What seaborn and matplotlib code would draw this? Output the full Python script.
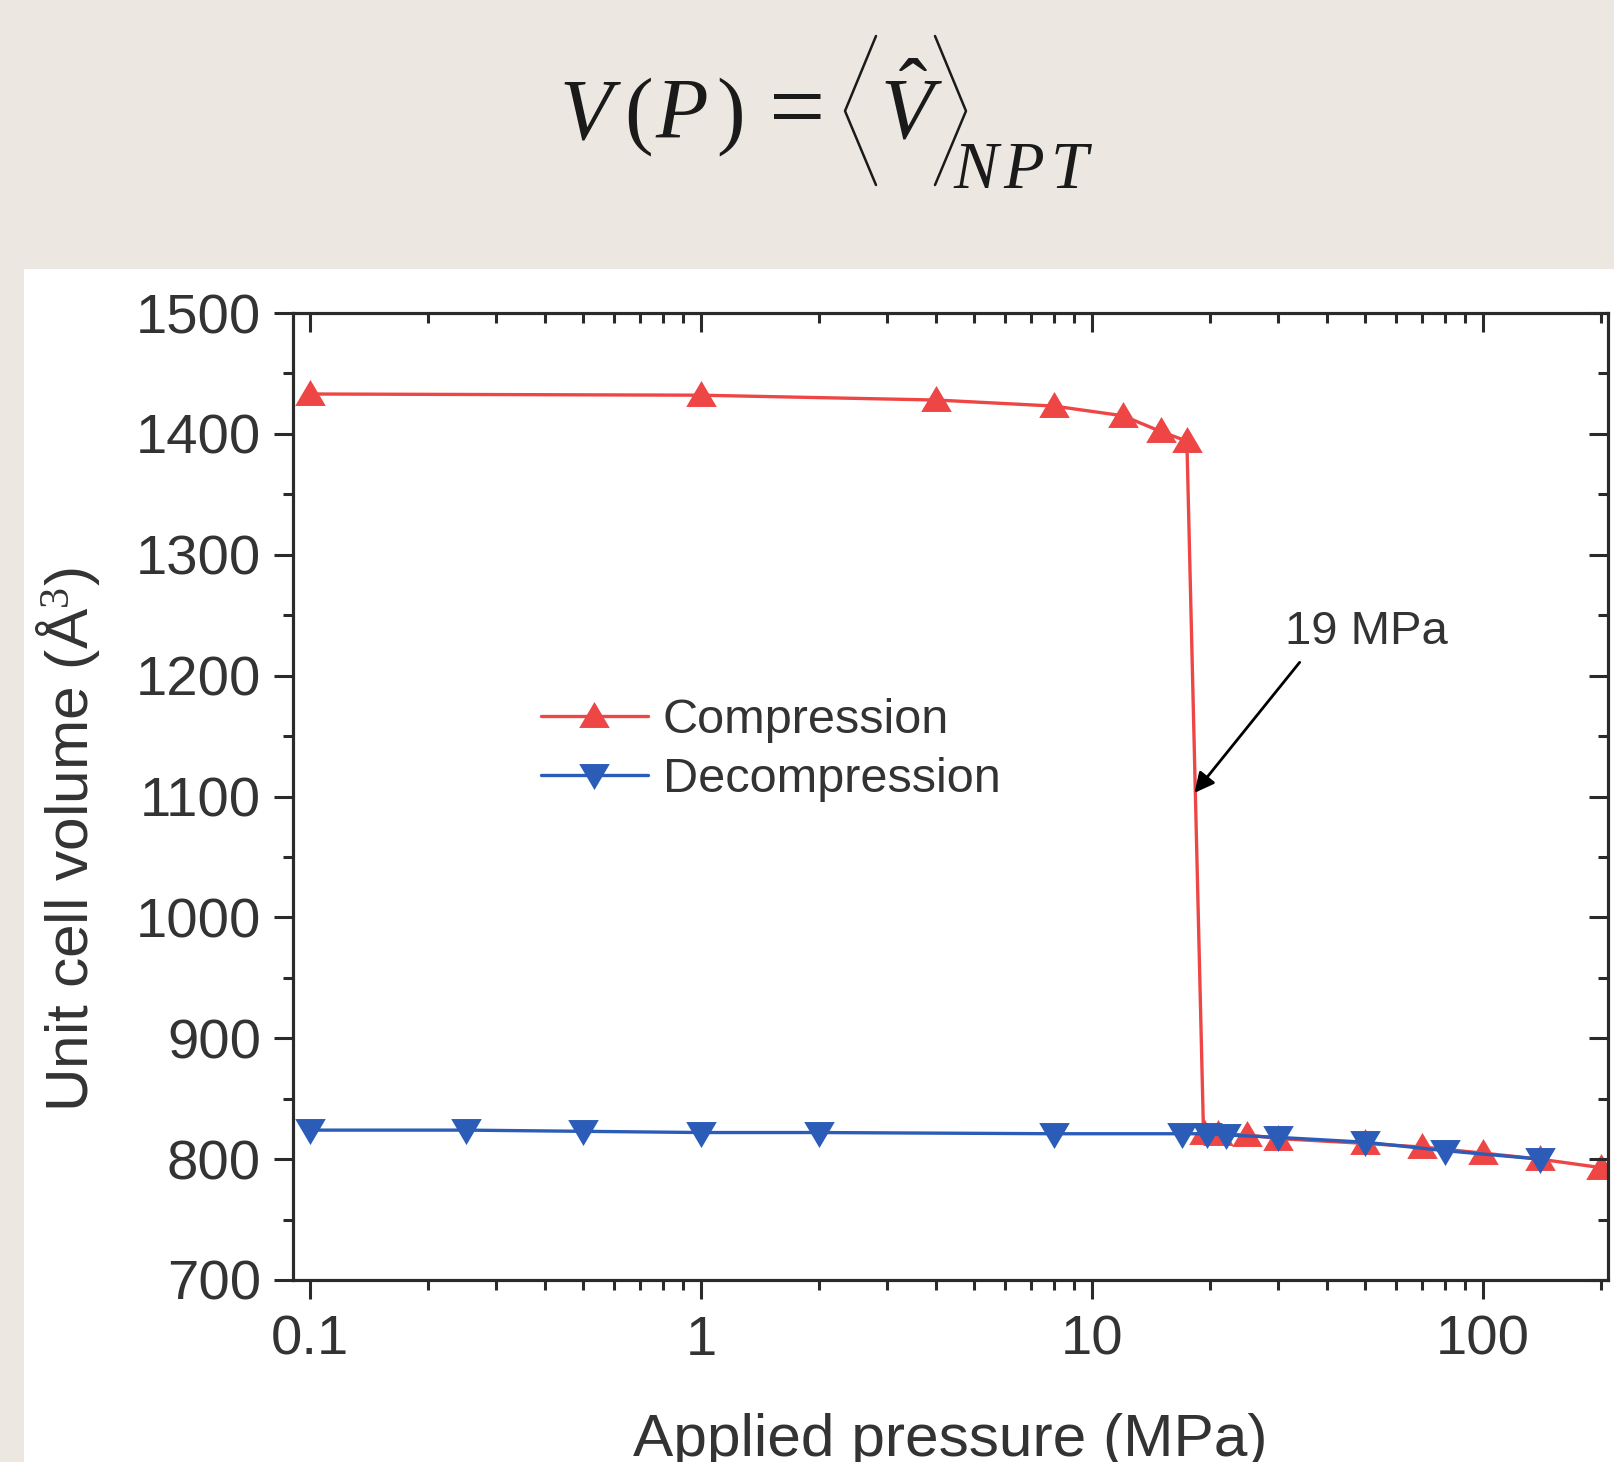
import matplotlib
matplotlib.use("Agg")

import matplotlib.pyplot as plt
from matplotlib.patches import Rectangle
from matplotlib.lines import Line2D
from matplotlib.ticker import MultipleLocator, LogLocator, FixedFormatter, FixedLocator
import seaborn as sns


# ======================================
# DATA
# ======================================

comp_pressure = [0.1, 1, 4, 8, 12, 15, 17.5, 19.3, 21, 25, 30, 50, 70, 100, 140, 200]
comp_volume = [1433, 1432, 1428, 1423, 1415, 1402, 1394, 822, 821, 820, 817, 813, 810, 805, 800, 793]

decomp_pressure = [0.1, 0.25, 0.5, 1, 2, 8, 17, 19.7, 22, 30, 50, 80, 140]
decomp_volume = [824, 824, 823, 822, 822, 821, 821, 821, 820, 818, 814, 807, 800]

x_ticks = [0.1, 1, 10, 100]
x_tick_labels = ["0.1", "1", "10", "100"]

annot_text = "19 MPa"
annot_text_xy = (50.5, 1236)
annot_tail_xy = (34, 1211)
annot_tip_xy = (18.3, 1103)

RED = "#EE4545"
BLUE = "#2B5CB8"
BEIGE = "#ECE8E1"
DARK = "#2A2A2A"
TEXT = "#333333"

# slightly flattened triangles (Origin style)
TRI_UP = [(0, 0.95), (-1, -0.75), (1, -0.75), (0, 0.95)]
TRI_DOWN = [(0, -0.95), (-1, 0.75), (1, 0.75), (0, -0.95)]


# ======================================
# STYLE
# ======================================

sns.set_style("ticks")
plt.rcParams["font.family"] = ["Liberation Sans", "DejaVu Sans"]
plt.rcParams["mathtext.fontset"] = "custom"
plt.rcParams["mathtext.it"] = "Liberation Serif:italic"
plt.rcParams["mathtext.rm"] = "Liberation Serif"


# ======================================
# FIGURE
# ======================================

W, H = 1615, 1462
fig = plt.figure(figsize=(W / 100, H / 100), dpi=100, facecolor=BEIGE)


def fx(px):
    return px / W


def fy(py):
    return 1 - py / H


# white panel behind the chart
fig.add_artist(Rectangle((fx(24), 0), 1, fy(269),
                         transform=fig.transFigure, facecolor="white",
                         edgecolor="none", zorder=-1))

# ======================================
# EQUATION HEADER  V(P) = <V^>_NPT
# ======================================

EQ = "#1a1a1a"

# glyph, left edge (px), baseline (px), size
eq_glyphs = [
    (r"$V$", 559, 138, 62),
    (r"$($", 624, 138, 62),
    (r"$P$", 655, 138, 62),
    (r"$)$", 716, 138, 62),
    (r"$=$", 754, 138, 72),
    (r"$\hat{V}$", 880, 138, 62),
    (r"$N$", 953, 188, 48),
    (r"$P$", 1003, 188, 48),
    (r"$T$", 1050, 188, 48),
]
for g, gx, gy, gs in eq_glyphs:
    fig.text(fx(gx), fy(gy), g, ha="left", va="baseline", fontsize=gs, color=EQ)

# tall angle brackets
fig.add_artist(Line2D([fx(876), fx(845), fx(876)], [fy(36), fy(111), fy(185)],
                      transform=fig.transFigure, color=EQ, lw=1.8))
fig.add_artist(Line2D([fx(935), fx(966), fx(935)], [fy(36), fy(111), fy(185)],
                      transform=fig.transFigure, color=EQ, lw=1.8))

left, right = 293 / W, 1608 / W
bottom, top = 1 - 1280 / H, 1 - 313 / H
ax = fig.add_axes([left, bottom, right - left, top - bottom])
ax.set_facecolor("none")


# ======================================
# LINES
# ======================================

sns.lineplot(x=comp_pressure, y=comp_volume, ax=ax, color=RED,
             marker=TRI_UP, markersize=22, markeredgewidth=0, linewidth=2.4,
             estimator=None, sort=False, label="Compression")

sns.lineplot(x=decomp_pressure, y=decomp_volume, ax=ax, color=BLUE,
             marker=TRI_DOWN, markersize=22, markeredgewidth=0, linewidth=2.4,
             estimator=None, sort=False, label="Decompression")


# ======================================
# AXES
# ======================================

XLIM = (0.0905, 209)
YLIM = (700, 1500)

ax.set_xscale("log")
ax.set_xlim(*XLIM)
ax.set_ylim(*YLIM)

ax.xaxis.set_major_locator(FixedLocator(x_ticks))
ax.xaxis.set_major_formatter(FixedFormatter(x_tick_labels))
ax.xaxis.set_minor_locator(LogLocator(base=10, subs=range(2, 10)))
ax.yaxis.set_major_locator(MultipleLocator(100))
ax.yaxis.set_minor_locator(MultipleLocator(50))

ax.tick_params(which="major", direction="out", length=14, width=2.2,
               labelsize=40.5, colors=DARK, labelcolor=TEXT)
ax.tick_params(axis="x", which="major", pad=11)
ax.tick_params(axis="y", which="major", pad=9)
ax.tick_params(which="minor", direction="out", length=7, width=2.2, colors=DARK)

for s in ax.spines.values():
    s.set_linewidth(2.2)
    s.set_color(DARK)
    s.set_visible(True)

ax.set_xlabel("Applied pressure (MPa)", fontsize=43.5, color=TEXT, labelpad=33)
ax.set_ylabel("Unit cell volume (Å$^3$)", fontsize=43.5, color=TEXT)
ax.yaxis.set_label_coords(-0.145, 0.4555)

# mirrored ticks pointing inwards on top and right
ax_top = ax.twiny()
ax_top.set_xscale("log")
ax_top.set_xlim(*XLIM)
ax_top.xaxis.set_major_locator(FixedLocator(x_ticks))
ax_top.xaxis.set_minor_locator(LogLocator(base=10, subs=range(2, 10)))
ax_top.tick_params(axis="x", which="major", direction="in", length=14, width=2.2,
                   colors=DARK, labeltop=False)
ax_top.tick_params(axis="x", which="minor", direction="in", length=7, width=2.2,
                   colors=DARK)

ax_right = ax.twinx()
ax_right.set_ylim(*YLIM)
ax_right.yaxis.set_major_locator(MultipleLocator(100))
ax_right.yaxis.set_minor_locator(MultipleLocator(50))
ax_right.tick_params(axis="y", which="major", direction="in", length=14, width=2.2,
                     colors=DARK, labelright=False)
ax_right.tick_params(axis="y", which="minor", direction="in", length=7, width=2.2,
                     colors=DARK)

for a in (ax_top, ax_right):
    for s in a.spines.values():
        s.set_linewidth(2.2)
        s.set_color(DARK)


# ======================================
# LEGEND + ANNOTATION
# ======================================

ax.legend(loc="upper left", bbox_to_anchor=(0.1886, 0.602), frameon=False,
          fontsize=35, handlelength=2.2, handletextpad=0.3,
          labelspacing=0.3, borderpad=0, borderaxespad=0,
          labelcolor=TEXT)

ax.text(annot_text_xy[0], annot_text_xy[1], annot_text, fontsize=34,
        color=TEXT, ha="center", va="center")
ax.annotate("", xy=annot_tip_xy, xytext=annot_tail_xy,
            arrowprops=dict(arrowstyle="-|>", color="black", lw=2,
                            mutation_scale=30, shrinkA=0, shrinkB=0))

fig.savefig("out.png", dpi=100, facecolor=BEIGE)
